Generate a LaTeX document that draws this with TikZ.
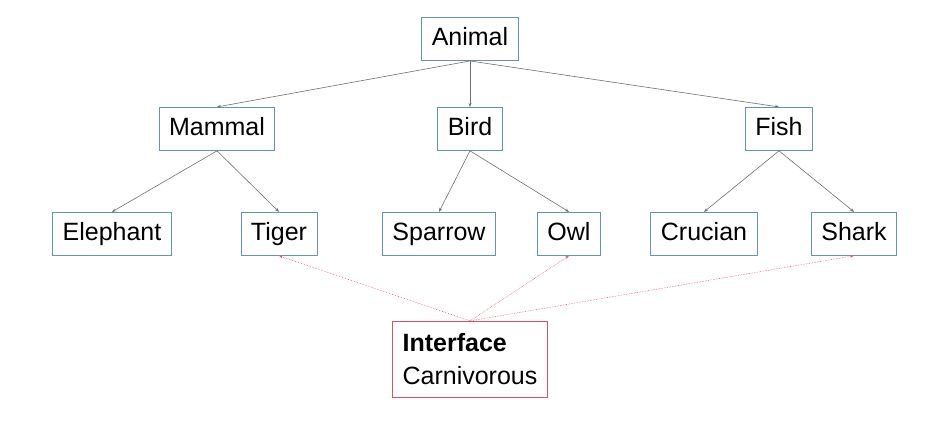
\documentclass[tikz,border=0pt]{standalone}
\usepackage{fontspec}
\setmainfont{Liberation Sans}
\usetikzlibrary{positioning,arrows.meta}
\definecolor{boxblue}{RGB}{98,146,190}
\definecolor{boxred}{RGB}{214,82,108}
\definecolor{edgegray}{RGB}{112,114,104}
\definecolor{dotred}{RGB}{232,96,120}
\tikzset{
    kind/.style={draw=boxblue,line width=0.9pt,inner xsep=10pt,minimum height=43pt,
        text height=18pt,text depth=5pt,font=\fontsize{25}{33}\selectfont},
    iface/.style={draw=boxred,line width=0.9pt,inner xsep=10pt,minimum width=154pt,
        minimum height=76pt,align=left,font=\fontsize{25}{33}\selectfont},
    isa/.style={draw=edgegray,line width=0.6pt,-{Stealth[length=4pt,width=3pt]}},
    impl/.style={draw=dotred,line width=0.6pt,densely dotted,-{Stealth[length=4pt,width=3pt]}}
}

\begin{document}
\begin{tikzpicture}[x=1pt,y=1pt]
        \useasboundingbox (0,0) rectangle (942,-444);
        \node[kind] (animal) at (470,-39) {Animal};
        \node[kind,below=46pt of animal,xshift=-253pt] (mammal) {Mammal};
        \node[kind,below=46pt of animal] (bird) {Bird};
        \node[kind,below=46pt of animal,xshift=309pt] (fish) {Fish};
        \node[kind,below=61pt of mammal,xshift=-105pt] (elephant) {Elephant};
        \node[kind,below=61pt of mammal,xshift=62pt] (tiger) {Tiger};
        \node[kind,below=61pt of bird,xshift=-31pt] (sparrow) {Sparrow};
        \node[kind,below=61pt of bird,xshift=99pt] (owl) {Owl};
        \node[kind,below=61pt of fish,xshift=-75pt] (crucian) {Crucian};
        \node[kind,below=61pt of fish,xshift=75pt] (shark) {Shark};
        \node[iface,below=170pt of bird] (carnivorous) {\textbf{Interface}\\Carnivorous};
        \draw[isa] (animal.south) -- (mammal.north);
        \draw[isa] (animal.south) -- (bird.north);
        \draw[isa] (animal.south) -- (fish.north);
        \draw[isa] (mammal.south) -- (elephant.north);
        \draw[isa] (mammal.south) -- (tiger.north);
        \draw[isa] (bird.south) -- (sparrow.north);
        \draw[isa] (bird.south) -- (owl.north);
        \draw[isa] (fish.south) -- (crucian.north);
        \draw[isa] (fish.south) -- (shark.north);
        \draw[impl] (carnivorous.north) -- (tiger.south);
        \draw[impl] (carnivorous.north) -- (owl.south);
        \draw[impl] (carnivorous.north) -- (shark.south);
    \end{tikzpicture}
\end{document}
